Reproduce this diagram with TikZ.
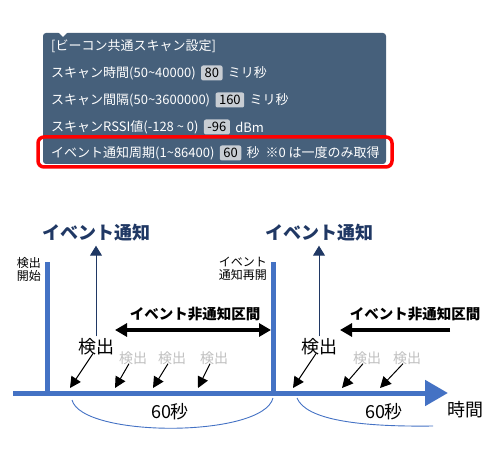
\documentclass[tikz,border=0pt]{standalone}
\usepackage{fontspec}
\setmainfont{Noto Sans CJK JP}
\usepackage{xcolor}
\usepackage{tikz}
\usetikzlibrary{arrows.meta,positioning}

\definecolor{panelbg}{HTML}{46607B}
\definecolor{valbg}{HTML}{C8CDD3}
\definecolor{axisblue}{HTML}{4472C4}
\definecolor{navy}{HTML}{203864}
\definecolor{detgray}{HTML}{BFBFBF}

\tikzset{
  rowtext/.style={anchor=west, inner sep=0pt, text=white, font=\fontsize{13}{15}\selectfont},
  valbox/.style={fill=valbg, rounded corners=2pt, inner xsep=3.5pt, inner ysep=1pt, minimum height=15pt, font=\fontsize{13}{15}\selectfont},
  notifylbl/.style={inner sep=0pt, text=navy, font=\fontsize{18}{20}\selectfont\bfseries},
  smalllbl/.style={inner sep=0pt, font=\fontsize{12}{13}\selectfont},
  gaplbl/.style={inner sep=0pt, font=\fontsize{14.5}{16}\selectfont\bfseries},
  detbig/.style={inner sep=0pt, font=\fontsize{18}{20}\selectfont},
  detsmall/.style={inner sep=0pt, text=detgray, font=\fontsize{14}{16}\selectfont},
  seclbl/.style={inner sep=0pt, font=\fontsize{18}{20}\selectfont},
  bar/.style={axisblue, line width=5pt},
  notify/.style={navy, line width=1pt, -{Triangle[length=10pt, width=12pt]}},
  gapline/.style={line width=3.5pt},
  detarrow/.style={line width=1pt, -{Triangle[length=11pt, width=11pt]}},
  arc/.style={axisblue, line width=0.9pt}
}

\begin{document}
\begin{tikzpicture}[x=1pt, y=-1pt]
\useasboundingbox (0,0) rectangle (498,449);

\fill[panelbg, rounded corners=3pt] (43,33) rectangle (386,164);
\fill[white] (58,32) -- (68,32) -- (63,37) -- cycle;

\node[rowtext] (title) at (51,46) {[ビーコン共通スキャン設定]};
\node[rowtext] (scantime) at (51,73) {スキャン時間(50\textasciitilde40000)};
\node[valbox, right=5pt of scantime] (scantimeval) {80};
\node[rowtext, right=5pt of scantimeval] (scantimeunit) {ミリ秒};
\node[rowtext] (scanint) at (51,100) {スキャン間隔(50\textasciitilde3600000)};
\node[valbox, right=5pt of scanint] (scanintval) {160};
\node[rowtext, right=5pt of scanintval] (scanintunit) {ミリ秒};
\node[rowtext] (rssi) at (51,127) {スキャンRSSI値(-128 \textasciitilde\ 0)};
\node[valbox, right=5pt of rssi] (rssival) {-96};
\node[rowtext, right=5pt of rssival] (rssiunit) {dBm};
\node[rowtext] (period) at (51,153) {イベント通知周期(1\textasciitilde86400)};
\node[valbox, right=5pt of period] (periodval) {60};
\node[rowtext, right=5pt of periodval] (periodunit) {秒\ \ ※0 は一度のみ取得};
\draw[red, line width=3.5pt, rounded corners=6pt] (38,137) rectangle (392,167);

\coordinate (axisL) at (13,393);
\coordinate (axisR) at (448,393);
\coordinate (startTop) at (47,262);
\coordinate (startBot) at (47,393);
\coordinate (resumeTop) at (273,262);
\coordinate (resumeBot) at (273,393);
\draw[bar, -{Triangle[length=23pt, width=25pt]}] (axisL) -- (axisR);
\draw[bar] (startTop) -- (startBot);
\draw[bar] (resumeTop) -- (resumeBot);

\node[smalllbl, anchor=north east, align=left] (startlbl) at (41,257) {検出\\開始};
\node[smalllbl, anchor=north east, align=right] (resumelbl) at (267,257) {イベント\\通知再開};

\node[notifylbl] (notify1) at (96,233) {イベント通知};
\node[notifylbl] (notify2) at (319,233) {イベント通知};
\node[detbig] (det1) at (96,347) {検出};
\node[detbig] (det2) at (319,347) {検出};
\draw[notify, shorten <=2pt, shorten >=4pt] (det1.north) -- (notify1.south);
\draw[notify, shorten <=2pt, shorten >=4pt] (det2.north) -- (notify2.south);

\node[gaplbl] (gap1) at (195,314) {イベント非通知区間};
\node[gaplbl] (gap2) at (415,314) {イベント非通知区間};
\coordinate (gap1L) at (115,330);
\coordinate (gap1R) at (271,330);
\coordinate (gap2L) at (340,330);
\coordinate (gap2R) at (450,330);
\draw[gapline, {Triangle[length=12pt, width=13pt]}-{Triangle[length=12pt, width=13pt]}] (gap1R) -- (gap1L);
\draw[gapline, -{Triangle[length=12pt, width=13pt]}] (gap2R) -- (gap2L);

\coordinate (tip1) at (70,388);
\coordinate (tip2) at (293,388);
\draw[detarrow] ([xshift=-3pt, yshift=2pt]det1.south) -- (tip1);
\draw[detarrow] ([xshift=-3pt, yshift=2pt]det2.south) -- (tip2);
\foreach \x/\t/\n in {133/115/g1, 172/153/g2, 214/198/g3, 367/342/g4, 407/380/g5} {
  \node[detsmall] (\n) at (\x,358) {検出};
  \coordinate (\n tip) at (\t,388);
  \draw[detarrow] ([xshift=-4pt, yshift=1pt]\n.south) -- (\n tip);
}

\draw[arc] (72,400) .. controls (82,438) and (263,438) .. (273,398);
\draw[arc] (297,398) .. controls (306,420) and (360,427) .. (433,426);

\node[seclbl] (sec1) at (170,412) {60秒};
\node[seclbl] (sec2) at (384,412) {60秒};
\node[seclbl] (timelbl) at (465,410) {時間};

\end{tikzpicture}
\end{document}
